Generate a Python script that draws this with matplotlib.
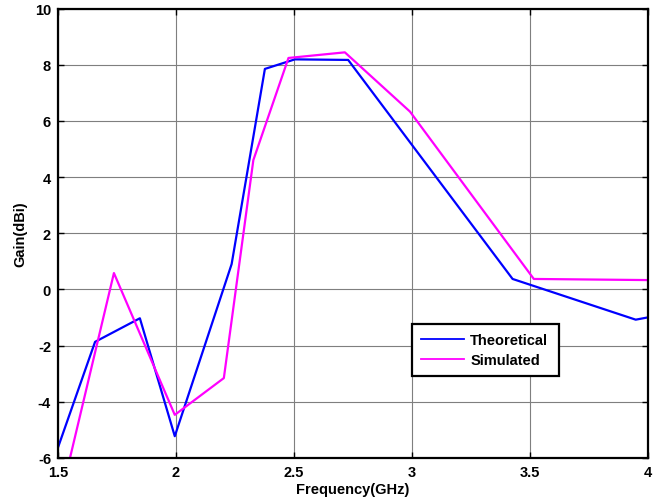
import matplotlib.pyplot as plt
import numpy as np

plt.rcParams.update({
    "font.family": ["Liberation Sans", "DejaVu Sans"],
    "font.weight": "bold",
    "font.size": 10.5,
    "axes.unicode_minus": False,
})

# Theoretical gain
freq_theo = [1.5, 1.657, 1.847, 1.995, 2.236, 2.377, 2.504, 2.73, 3.427, 3.949, 4.0]
gain_theo = [-5.63, -1.87, -1.03, -5.23, 0.90, 7.85, 8.19, 8.17, 0.37, -1.08, -1.0]

# Simulated gain
freq_sim = [1.5, 1.737, 1.995, 2.203, 2.328, 2.477, 2.716, 2.992, 3.517, 4.0]
gain_sim = [-7.8, 0.58, -4.47, -3.16, 4.6, 8.24, 8.44, 6.33, 0.37, 0.33]

xticks = [1.5, 2, 2.5, 3, 3.5, 4]
xticklabels = ["1.5", "2", "2.5", "3", "3.5", "4"]
yticks = [-6, -4, -2, 0, 2, 4, 6, 8, 10]

fig = plt.figure(figsize=(6.63, 5.02), dpi=100)
ax = fig.add_axes([0.0875, 0.086, 0.8895, 0.895])

ax.plot(freq_theo, gain_theo, color="#0000ff", lw=1.6, label="Theoretical")
ax.plot(freq_sim, gain_sim, color="#ff00ff", lw=1.6, label="Simulated")

ax.set_xlim(1.5, 4)
ax.set_ylim(-6, 10)
ax.set_xticks(xticks)
ax.set_xticklabels(xticklabels)
ax.set_yticks(yticks)
ax.grid(True, color="#7f7f7f", lw=0.8)
ax.tick_params(direction="in", top=True, right=True, length=4, width=1, pad=5)
for s in ax.spines.values():
    s.set_linewidth(1.6)

ax.set_xlabel("Frequency(GHz)", fontweight="bold", labelpad=2)
ax.set_ylabel("Gain(dBi)", fontweight="bold", labelpad=5)

leg = ax.legend(loc="upper left", bbox_to_anchor=(0.6, 0.298, 0.249, 0.0),
                mode="expand", fancybox=False, framealpha=1, edgecolor="black",
                borderaxespad=0, handlelength=3.0, handletextpad=0.4,
                borderpad=0.6, labelspacing=0.45,
                prop={"weight": "bold", "size": 10.5})
leg.get_frame().set_linewidth(1.6)
for line in leg.get_lines():
    line.set_linewidth(1.3)

fig.savefig("out.png", dpi=100)
